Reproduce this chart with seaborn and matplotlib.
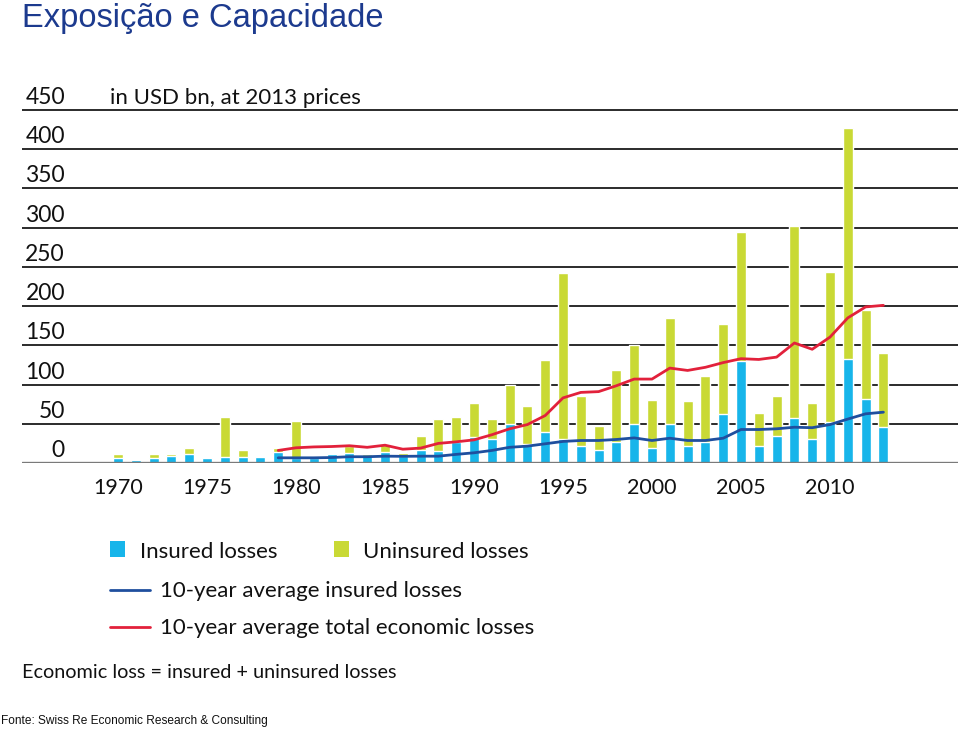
import numpy as np
import pandas as pd
import matplotlib
matplotlib.use("Agg")
import matplotlib.pyplot as plt
from matplotlib.patches import Rectangle
from matplotlib.lines import Line2D
import matplotlib.transforms as mtransforms
import seaborn as sns

# values (USD bn, 2013 prices)
years = list(range(1970, 2014))
insured = [6.6, 3.2, 6.6, 8.7, 11.7, 6.6, 7.4, 7.4, 7.4, 13.5,
           7, 6.6, 11, 13, 9, 13.8, 9.5, 17, 14.7, 27,
           33, 30, 50, 24, 40, 31, 21.5, 16, 26.5, 50,
           19, 50, 21.5, 26.5, 62, 130, 21.5, 35, 57, 31,
           52, 133, 81, 45.5]
total = [11.7, 3.2, 11.7, 11.7, 18.5, 6.6, 58.4, 17.2, 7.4, 19.4,
         54, 6.6, 11.7, 21.5, 12, 24.5, 12.5, 34, 55.5, 58.4,
         76, 56, 100, 73, 131, 242, 85, 47.5, 118, 150,
         80.6, 185, 78.5, 111, 177.5, 294, 64, 86, 302.5, 77,
         243, 427, 194.5, 140.5]

avg_years = list(range(1979, 2014))
avg_total = [16, 19.4, 20.5, 21, 22, 20, 22.7, 17.6, 19, 25,
             27, 29.5, 36, 43.6, 49, 60.5, 83, 90, 91, 98.5,
             107, 107, 121, 118, 122, 128, 133, 132, 135, 153,
             145, 160.5, 185, 199, 201]
avg_insured = [6.6, 6.6, 6.6, 7, 8, 8, 8.7, 8.5, 8.7, 8.7,
               11, 13, 16, 20, 21.5, 24.5, 27.5, 28.7, 28.7, 30,
               32, 28.7, 31.6, 28.7, 28.7, 31.6, 42.7, 42.7, 43.6, 45.6,
               45, 49, 56, 62.7, 64.8]

bar_df = pd.DataFrame({"year": years, "insured": insured, "total": total})
avg_df = pd.DataFrame({"year": avg_years, "avg_total": avg_total, "avg_insured": avg_insured})

c_ins = "#17b5ea"
c_unins = "#c9d935"
c_line_ins = "#1f4f9e"
c_line_tot = "#e2213b"
c_title = "#1c3a8e"

sns.set_style("white")
plt.rcParams["font.family"] = ["Lato", "DejaVu Sans"]

W, H = 959, 730
fig = plt.figure(figsize=(W / 100, H / 100), dpi=100)

def fx(px):
    return px / W

def fy(py):
    return 1 - py / H

ax_left, ax_right, ax_bottom = 22, 958, 463
px_per_unit = 0.7844
ymax = 452
ax = fig.add_axes([fx(ax_left), fy(ax_bottom), (ax_right - ax_left) / W, ymax * px_per_unit / H])

sns.barplot(data=bar_df, x="year", y="total", native_scale=True, color=c_unins,
            saturation=1, width=0.56, errorbar=None, ax=ax, zorder=3)
sns.barplot(data=bar_df, x="year", y="insured", native_scale=True, color=c_ins,
            saturation=1, width=0.56, errorbar=None, ax=ax, zorder=3)
sns.lineplot(data=avg_df, x="year", y="avg_total", color=c_line_tot, lw=2.0, ax=ax, zorder=4)
sns.lineplot(data=avg_df, x="year", y="avg_insured", color=c_line_ins, lw=2.0, ax=ax, zorder=4)

spacing = 17.8
x0 = 1970 - (118 - ax_left) / spacing
ax.set_xlim(x0, x0 + (ax_right - ax_left) / spacing)
ax.set_ylim(0, ymax)

for s in ax.spines.values():
    s.set_visible(False)
ax.set_yticks(range(0, 451, 50))
ax.yaxis.grid(True, color="#1a1a1a", lw=1.3, zorder=1)
ax.xaxis.grid(False)
ax.axhline(0, color="#7a7a7a", lw=2.4, zorder=5)
ax.tick_params(left=False, labelleft=False, bottom=False, length=0)
ax.set_xlabel("")
ax.set_ylabel("")

ticks = list(range(1970, 2011, 5))
ax.set_xticks(ticks)
ax.set_xticklabels([str(t) for t in ticks], fontsize=15.5, color="#111111")
ax.tick_params(axis="x", pad=11)

trans = mtransforms.blended_transform_factory(ax.transAxes, ax.transData)
label_x = (65 - ax_left) / (ax_right - ax_left)
off = 6 / px_per_unit
for v in range(0, 451, 50):
    ax.text(label_x, v + off, str(v), transform=trans, ha="right", va="baseline",
            fontsize=16.5, color="#111111")
ax.text((110 - ax_left) / (ax_right - ax_left), 450 + off, "in USD bn, at 2013 prices",
        transform=trans, ha="left", va="baseline", fontsize=16, color="#111111")

# title
fig.text(fx(22), fy(19), "Exposição e Capacidade", fontsize=23.5, color=c_title,
         family=["Liberation Sans", "DejaVu Sans"], ha="left", va="center")

# legend drawn by hand
fig.add_artist(Rectangle((fx(110), fy(557)), 15 / W, 16 / H, transform=fig.transFigure,
                         facecolor=c_ins, edgecolor="none"))
fig.text(fx(140), fy(552), "Insured losses", fontsize=16, ha="left", va="center", color="#111111")
fig.add_artist(Rectangle((fx(334), fy(557)), 15 / W, 16 / H, transform=fig.transFigure,
                         facecolor=c_unins, edgecolor="none"))
fig.text(fx(363), fy(552), "Uninsured losses", fontsize=16, ha="left", va="center", color="#111111")
fig.add_artist(Line2D([fx(110), fx(150)], [fy(590), fy(590)], transform=fig.transFigure,
                      color=c_line_ins, lw=2.0))
fig.text(fx(160), fy(591), "10-year average insured losses", fontsize=16, ha="left",
         va="center", color="#111111")
fig.add_artist(Line2D([fx(110), fx(150)], [fy(627), fy(627)], transform=fig.transFigure,
                      color=c_line_tot, lw=2.0))
fig.text(fx(160), fy(628), "10-year average total economic losses", fontsize=16, ha="left",
         va="center", color="#111111")

fig.text(fx(22), fy(673), "Economic loss = insured + uninsured losses", fontsize=14.3,
         ha="left", va="center", color="#111111")
fig.text(fx(1), fy(721), "Fonte: Swiss Re Economic Research & Consulting", fontsize=8.6,
         family=["Liberation Sans", "DejaVu Sans"], ha="left", va="center", color="#111111")

fig.savefig("out.png", dpi=100)
